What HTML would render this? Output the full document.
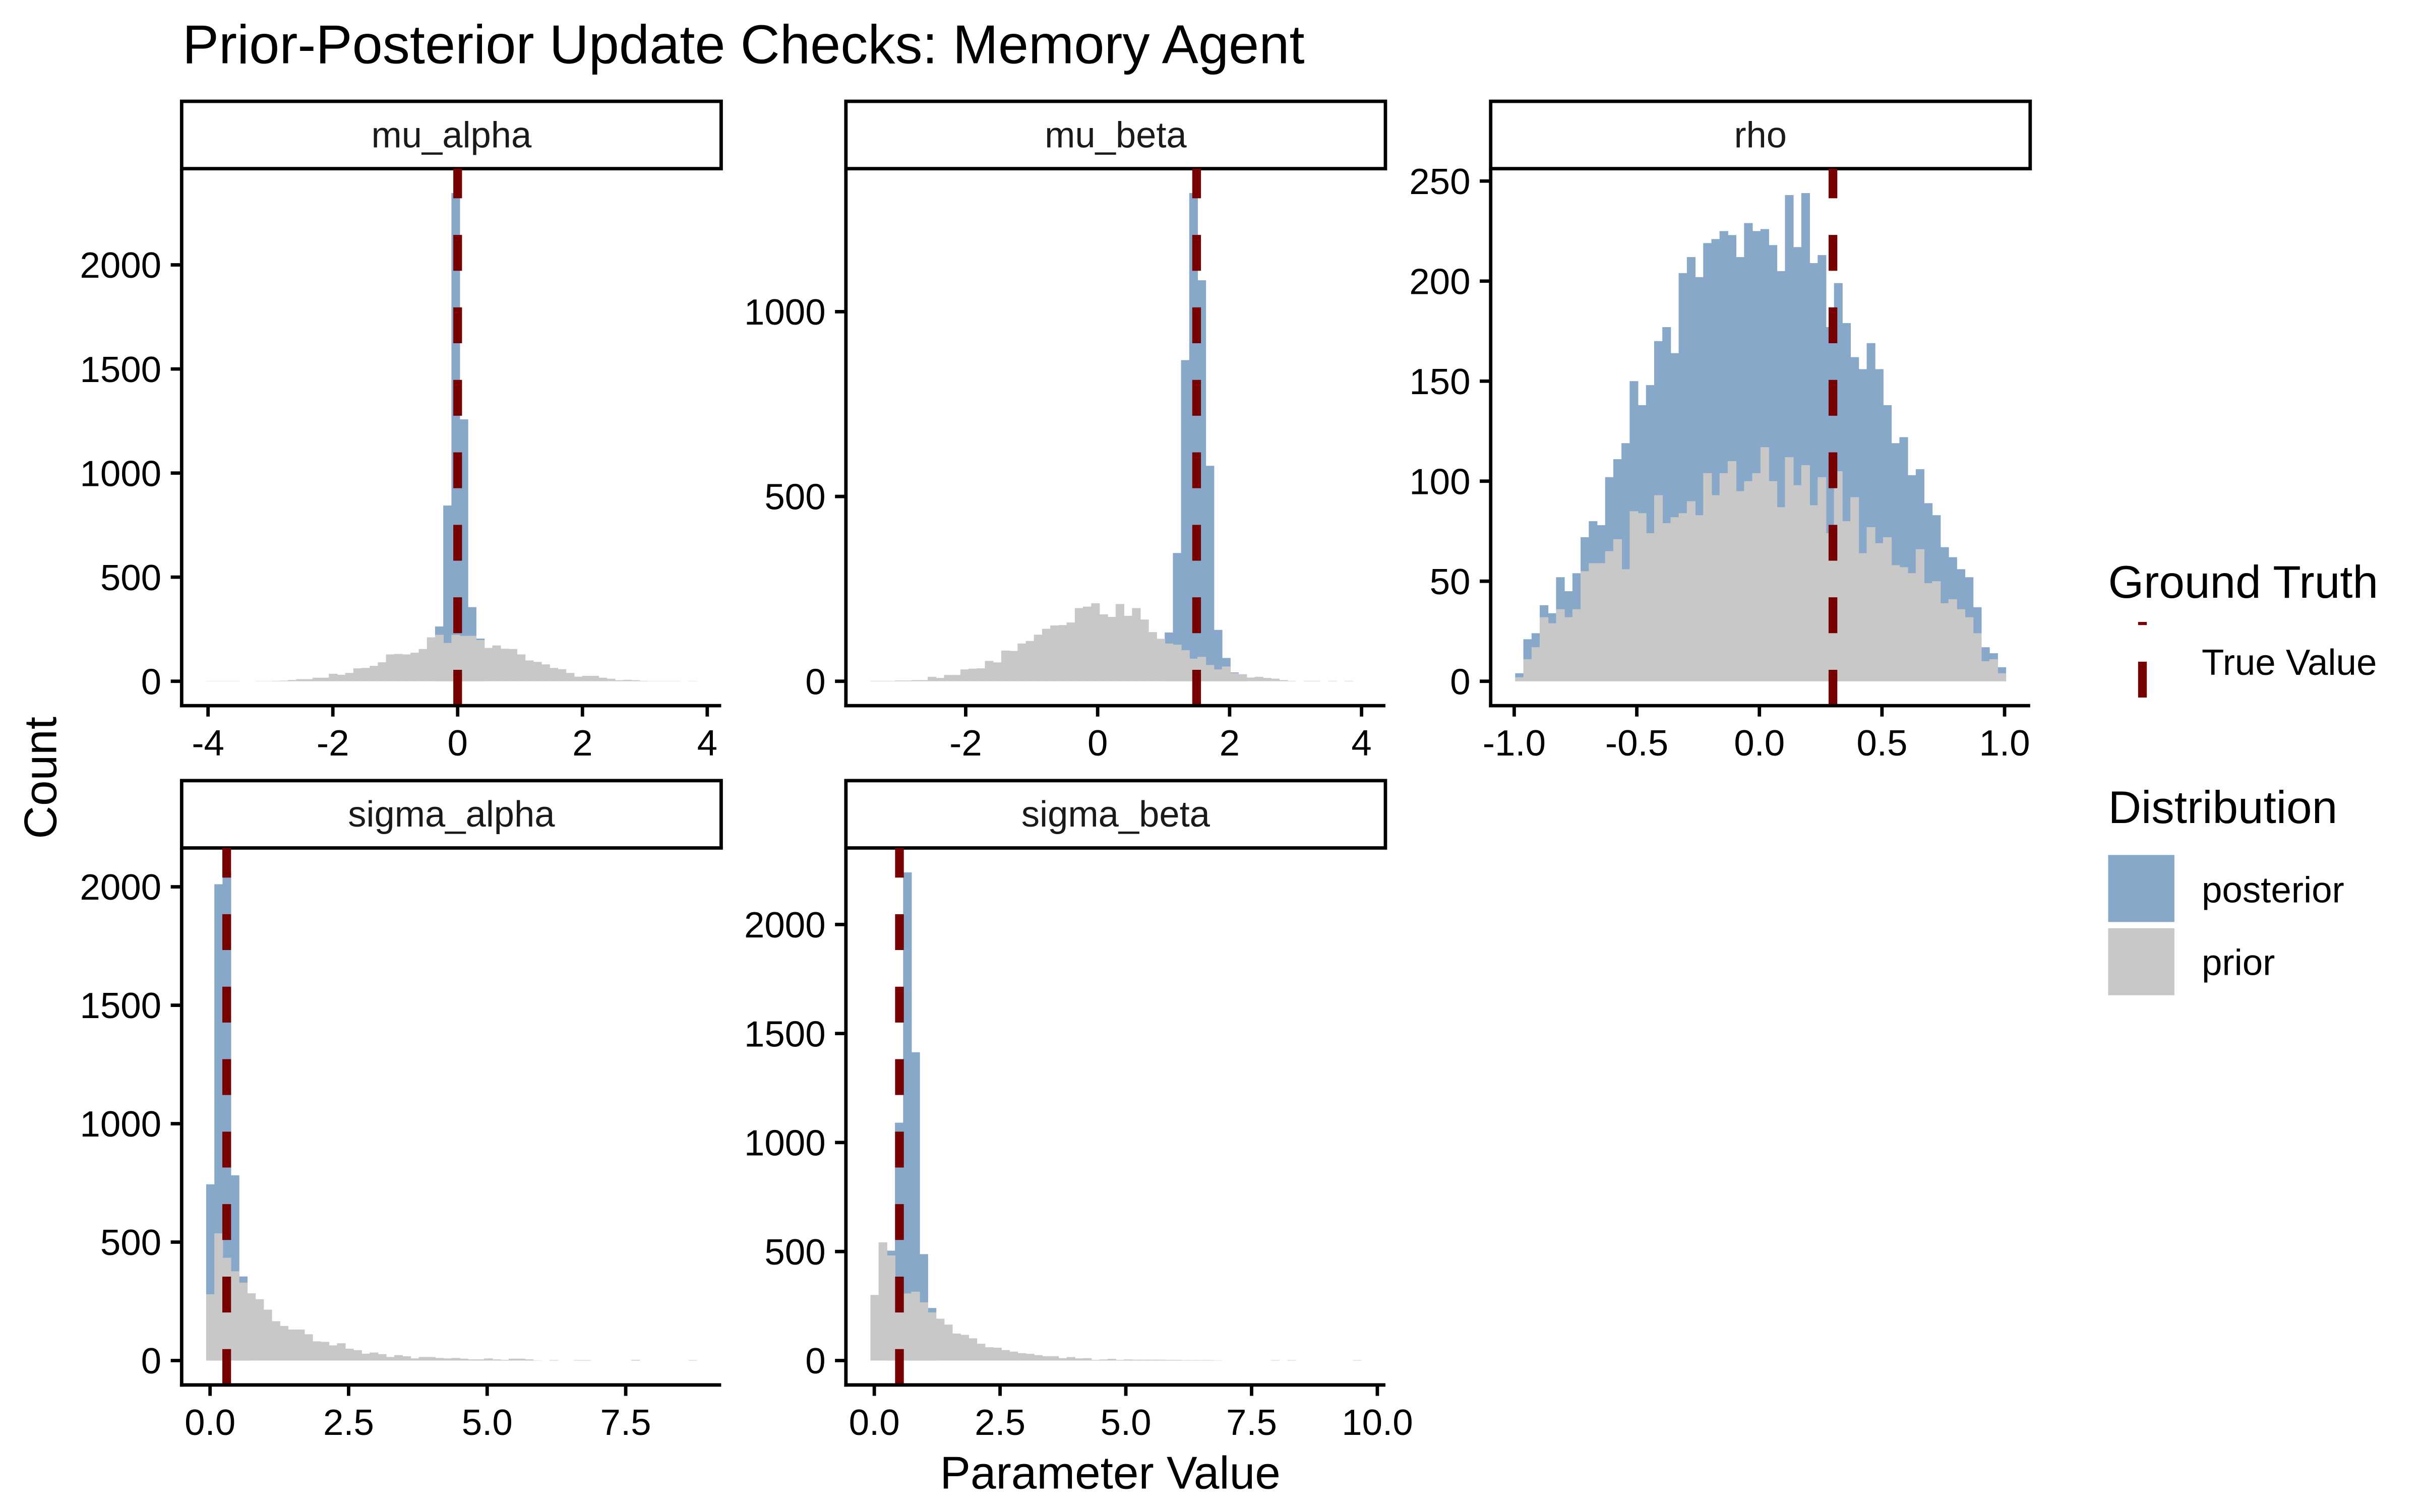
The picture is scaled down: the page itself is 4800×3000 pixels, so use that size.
<!DOCTYPE html>
<html><head><meta charset="utf-8"><title>Prior-Posterior Update Checks: Memory Agent</title>
<style>
html,body{margin:0;padding:0;background:#fff;}
svg{display:block;font-family:"Liberation Sans",Arial,sans-serif;}
</style></head>
<body>
<svg id="chart" xmlns="http://www.w3.org/2000/svg" width="4800" height="3000" viewBox="0 0 1552 970">
<rect x="0" y="0" width="1552" height="970" fill="#ffffff"/>
<text x="117" y="40.5" font-size="35" fill="#000">Prior-Posterior Update Checks: Memory Agent</text>
<text transform="translate(36,499) rotate(-90)" text-anchor="middle" font-size="29.4" fill="#000">Count</text>
<text x="712" y="955" text-anchor="middle" font-size="29.4" fill="#000">Parameter Value</text>
<g id="panels"></g>
<g id="legend">
  <text x="1352" y="383.5" font-size="29.4" fill="#000">Ground Truth</text>
  <line x1="1374" y1="447.5" x2="1374" y2="399" stroke="#770000" stroke-width="5.6" stroke-dasharray="23 23.5"/>
  <text x="1412" y="433" font-size="23.5" fill="#000">True Value</text>
  <text x="1352" y="528" font-size="29.4" fill="#000">Distribution</text>
  <rect x="1352" y="548.5" width="42.5" height="43" fill="#88a8c9"/>
  <text x="1412" y="579" font-size="23.5" fill="#000">posterior</text>
  <rect x="1352" y="595.5" width="42.5" height="43" fill="#c8c8c8"/>
  <text x="1412" y="625.5" font-size="23.5" fill="#000">prior</text>
</g>
</svg>
<script>
// ---- data ----
const panelNames = ["mu_alpha","mu_beta","rho","sigma_alpha","sigma_beta"];
const binStarts = [-4.03, -3.444, -0.996, -0.07, -0.077];
const binWidths = [0.131, 0.1239, 0.03334, 0.1475, 0.1625];
const trueValues = [0, 1.5, 0.3, 0.3, 0.5];

const muAlphaPrior = [1,1,1,1,0,0,1,1,2,3,6,10,10,17,17,36,31,40,62,64,74,91,129,131,129,137,155,211,223,184,223,218,218,198,160,172,156,155,129,100,93,81,64,58,40,22,26,26,17,12,5,7,5,2,1,1,1,1,0,1];
const muAlphaPost = [0,0,0,0,0,0,0,0,0,0,0,0,0,0,0,0,0,0,0,0,0,0,0,0,0,0,0,0,263,844,2345,1258,356,205,0,0,0,0,0,0,0,0,0,0,0,0,0,0,0,0,0,0,0,0,0,0,0,0,0,0];
const muBetaPrior = [1,1,1,2,2,3,3,12,9,17,17,32,34,35,55,51,83,82,102,109,126,142,151,152,159,198,202,211,181,174,209,177,198,167,133,115,102,99,84,61,66,44,32,40,22,19,10,12,9,7,3,1,0,1,1,0,1,0,1,0];
const muBetaPost = [0,0,0,0,0,0,0,0,0,0,0,0,0,0,0,0,0,0,0,0,0,0,0,0,0,0,0,0,0,0,0,0,0,0,0,0,132,347,869,1321,1085,583,139,63,24,3,0,0,0,0,0,0,0,0,0,0,0,0,0,0];
const rhoPrior = [2,11,17,32,29,36,32,36,55,59,59,65,71,56,85,84,74,93,79,82,84,90,83,104,93,104,110,95,100,104,117,100,87,112,98,108,88,102,74,105,80,92,64,77,69,72,58,57,54,66,49,50,39,41,36,32,24,10,11,4];
const rhoPost = [4,21,24,38,34,52,45,54,72,80,78,102,111,119,150,138,148,170,177,164,204,212,202,219,221,225,223,212,229,225,226,218,205,243,217,244,209,213,177,199,179,162,156,169,156,138,119,122,103,106,89,83,67,62,56,52,37,17,14,7];
const sigmaAlphaPrior = [280,537,434,377,329,284,259,215,166,146,131,131,111,81,79,64,73,50,44,29,34,27,15,23,18,9,15,15,11,9,11,8,5,5,9,5,3,8,8,5,1,0,2,0,0,2,2,0,0,0,0,0,3,0,0,0,0,0,0,2];
const sigmaAlphaPost = [744,2011,2061,782,355,0,0,0,0,0,0,0,0,0,0,0,0,0,0,0,0,0,0,0,0,0,0,0,0,0,0,0,0,0,0,0,0,0,0,0,0,0,0,0,0,0,0,0,0,0,0,0,0,0,0,0,0,0,0,0];
const sigmaBetaPrior = [301,542,482,229,308,316,267,221,192,165,124,118,102,77,61,59,48,41,34,31,25,20,20,11,16,10,11,3,5,8,3,5,4,4,4,4,3,3,2,2,2,2,1,0,0,0,0,0,0,2,0,2,0,0,0,0,0,0,0,2];
const sigmaBetaPost = [0,0,504,1091,2239,1414,488,241,0,0,0,0,0,0,0,0,0,0,0,0,0,0,0,0,0,0,0,0,0,0,0,0,0,0,0,0,0,0,0,0,0,0,0,0,0,0,0,0,0,0,0,0,0,0,0,0,0,0,0,0];

const priorSeries = [muAlphaPrior, muBetaPrior, rhoPrior, sigmaAlphaPrior, sigmaBetaPrior];
const postSeries = [muAlphaPost, muBetaPost, rhoPost, sigmaAlphaPost, sigmaBetaPost];

const xTickValues = [[-4,-2,0,2,4],[-2,0,2,4],[-1,-0.5,0,0.5,1],[0,2.5,5,7.5],[0,2.5,5,7.5,10]];
const xTickLabels = [["-4","-2","0","2","4"],["-2","0","2","4"],["-1.0","-0.5","0.0","0.5","1.0"],["0.0","2.5","5.0","7.5"],["0.0","2.5","5.0","7.5","10.0"]];
const yTickValues = [[0,500,1000,1500,2000],[0,500,1000],[0,50,100,150,200,250],[0,500,1000,1500,2000],[0,500,1000,1500,2000]];

// ---- layout (not data) ----
const panelLeft = [116.5, 542.5, 956, 116.5, 542.5];
const panelBottom = [452.7, 452.7, 452.7, 888.5, 888.5];
const PW = 346, PH = 344.5, STRIP = 43.2;
const NS = "http://www.w3.org/2000/svg";
const root = document.getElementById("panels");

function mk(tag, attrs, parent) {
  const el = document.createElementNS(NS, tag);
  for (const k in attrs) el.setAttribute(k, attrs[k]);
  parent.appendChild(el);
  return el;
}

panelNames.forEach((name, p) => {
  const prior = priorSeries[p], post = postSeries[p];
  const n = prior.length, w = binWidths[p], s = binStarts[p];
  const lo = s, hi = s + n * w, span = hi - lo;
  const dLo = lo - 0.05 * span, dHi = hi + 0.05 * span;
  const L = panelLeft[p], B = panelBottom[p], T = B - PH;
  const xs = v => L + (v - dLo) / (dHi - dLo) * PW;
  const maxV = Math.max(Math.max(...prior), Math.max(...post));
  const yMin = -0.05 * maxV, yMax = 1.05 * maxV;
  const ys = v => B - (v - yMin) / (yMax - yMin) * PH;

  const g = mk("g", {}, root);
  
  

  const sr = mk("rect", {x: L, y: T - STRIP, width: PW, height: STRIP, fill: "#fff", stroke: "#000", "stroke-width": 2.2}, g);
  
  
  const st = mk("text", {x: L + PW / 2, y: T - STRIP + 29.5, "text-anchor": "middle", "font-size": 23.4, fill: "#1a1a1a"}, g);
  st.textContent = name;
  
  

  post.forEach((v, i) => {
    if (v <= 0) return;
    const x0 = xs(s + i * w), x1 = xs(s + (i + 1) * w);
    const r = mk("rect", {x: x0, y: ys(v), width: x1 - x0 + 0.3, height: ys(0) - ys(v), fill: "#88a8c9"}, g);
    
    
  });
  prior.forEach((v, i) => {
    if (v <= 0) return;
    const x0 = xs(s + i * w), x1 = xs(s + (i + 1) * w);
    const r = mk("rect", {x: x0, y: ys(v), width: x1 - x0 + 0.3, height: ys(0) - ys(v), fill: "#c8c8c8"}, g);
    
    
  });

  const tv = mk("line", {x1: xs(trueValues[p]), x2: xs(trueValues[p]), y1: B, y2: T, stroke: "#770000", "stroke-width": 5.6, "stroke-dasharray": "23 23.5"}, g);
  
  

  const ya = mk("line", {x1: L, x2: L, y1: T, y2: B + 1.1, stroke: "#000", "stroke-width": 2.2}, g);
  
  
  const xa = mk("line", {x1: L - 1.1, x2: L + PW, y1: B, y2: B, stroke: "#000", "stroke-width": 2.2}, g);
  
  

  yTickValues[p].forEach(v => {
    const yy = ys(v);
    const t = mk("line", {x1: L - 7, x2: L, y1: yy, y2: yy, stroke: "#000", "stroke-width": 2.2}, g);
    
    
    const lb = mk("text", {x: L - 13, y: yy + 8.3, "text-anchor": "end", "font-size": 23.5, fill: "#000"}, g);
    lb.textContent = String(v);
    
    
  });
  xTickValues[p].forEach((v, k) => {
    const xx = xs(v);
    const t = mk("line", {x1: xx, x2: xx, y1: B, y2: B + 7, stroke: "#000", "stroke-width": 2.2}, g);
    
    
    const lb = mk("text", {x: xx, y: B + 32, "text-anchor": "middle", "font-size": 23.5, fill: "#000"}, g);
    lb.textContent = xTickLabels[p][k];
    
    
  });
});
</script>
</body></html>
